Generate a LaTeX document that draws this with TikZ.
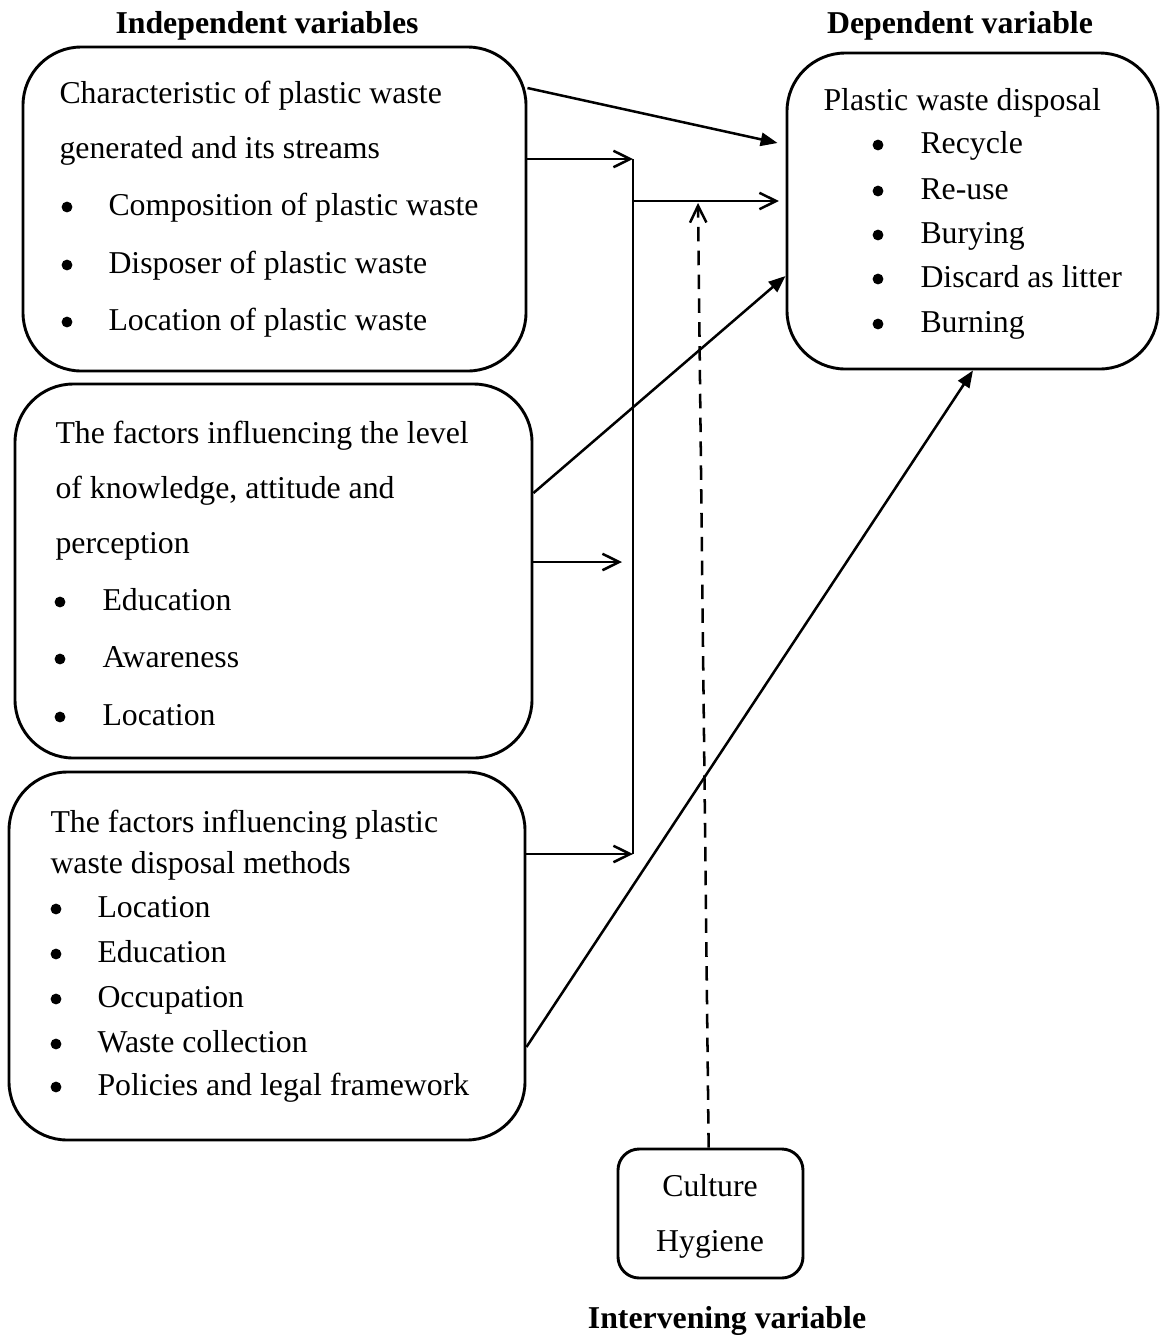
\documentclass[tikz,border=0pt]{standalone}
\usepackage{fontspec}
\setmainfont{Liberation Serif}
\usetikzlibrary{arrows.meta,fit}
\begin{document}
\begin{tikzpicture}[x=0.3774pt,y=-0.3774pt,
 every node/.style={font=\fontsize{12}{14}\selectfont},
 box/.style={draw,line width=1.1pt,rounded corners=22pt,inner sep=0pt},
 smallbox/.style={draw,line width=1.1pt,rounded corners=8pt,inner sep=0pt},
 txt/.style={anchor=base west,inner sep=0pt},
 bul/.style={circle,fill,inner sep=0pt,minimum size=4.1pt},
 ctr/.style={anchor=base,inner sep=0pt},
 head/.style={anchor=base,inner sep=0pt,font=\fontsize{12}{14}\selectfont\bfseries},
 fa/.style={line width=0.95pt,-{Triangle[length=6.4pt,width=5pt]}},
 oa/.style={line width=0.95pt,-{Straight Barb[length=6.3pt,width=6.2pt]}},
 thinline/.style={line width=0.45pt},
 dashline/.style={line width=0.95pt,dash pattern=on 5.5pt off 3.5pt,-{Straight Barb[length=6.3pt,width=6.2pt]}}
]
\useasboundingbox (0,0) rectangle (1160,1336);

% headings
\node[head] (hind) at (267,33) {Independent variables};
\node[head] (hdep) at (960,33) {Dependent variable};
\node[head] (hint) at (727,1328) {Intervening variable};

% boxes
\node[box,fit={(23,47) (526,371)}] (b1) {};
\node[box,fit={(15,384) (532,758)}] (b2) {};
\node[box,fit={(9,772) (525,1140)}] (b3) {};
\node[box,fit={(787,53) (1158,369)}] (dv) {};
\node[smallbox,fit={(618,1149) (803,1278)}] (cv) {};

% box 1 text
\node[txt] (t1a) at (59,103) {Characteristic of plastic waste};
\node[txt] (t1b) at (59,158) {generated and its streams};
\node[bul] (u1c) at (67,207) {};
\node[txt] (t1c) at (108,215) {Composition of plastic waste};
\node[bul] (u1d) at (67,265) {};
\node[txt] (t1d) at (108,273) {Disposer of plastic waste};
\node[bul] (u1e) at (67,322) {};
\node[txt] (t1e) at (108,330) {Location of plastic waste};

% box 2 text
\node[txt] (t2a) at (55,443) {The factors influencing the level};
\node[txt] (t2b) at (55,498) {of knowledge, attitude and};
\node[txt] (t2c) at (55,553) {perception};
\node[bul] (u2d) at (60,602) {};
\node[txt] (t2d) at (102,610) {Education};
\node[bul] (u2e) at (60,659) {};
\node[txt] (t2e) at (102,667) {Awareness};
\node[bul] (u2f) at (60,717) {};
\node[txt] (t2f) at (102,725) {Location};

% box 3 text
\node[txt] (t3a) at (50,832) {The factors influencing plastic};
\node[txt] (t3b) at (50,873) {waste disposal methods};
\node[bul] (u3c) at (56,909) {};
\node[txt] (t3c) at (97,917) {Location};
\node[bul] (u3d) at (56,954) {};
\node[txt] (t3d) at (97,962) {Education};
\node[bul] (u3e) at (56,999) {};
\node[txt] (t3e) at (97,1007) {Occupation};
\node[bul] (u3f) at (56,1044) {};
\node[txt] (t3f) at (97,1052) {Waste collection};
\node[bul] (u3g) at (56,1087) {};
\node[txt] (t3g) at (97,1095) {Policies and legal framework};

% dependent box text
\node[txt] (tda) at (823,110) {Plastic waste disposal};
\node[bul] (udb) at (878,145) {};
\node[txt] (tdb) at (920,153) {Recycle};
\node[bul] (udc) at (878,191) {};
\node[txt] (tdc) at (920,199) {Re-use};
\node[bul] (udd) at (878,235) {};
\node[txt] (tdd) at (920,243) {Burying};
\node[bul] (ude) at (878,279) {};
\node[txt] (tde) at (920,287) {Discard as litter};
\node[bul] (udf) at (878,324) {};
\node[txt] (tdf) at (920,332) {Burning};

% intervening box text
\node[ctr] (tca) at (710,1196) {Culture};
\node[ctr] (tcb) at (710,1251) {Hygiene};

% junction coordinates
\coordinate (bartop) at (633,159);
\coordinate (barbot) at (633,854);
\coordinate (barj) at (633,201);
\coordinate (bar6) at (622,562);
\coordinate (dtop) at (698,203);

% connectors
\draw[thinline] (bartop) -- (barbot);
\draw[fa] (b1.east |- 0,88) -- ([xshift=-3pt]dv.west |- 0,143);
\draw[oa] (b1.east |- bartop) -- (bartop);
\draw[oa] (barj) -- ([xshift=-2.5pt]dv.west |- barj);
\draw[fa] (b2.east |- 0,493) -- (dv.west |- 0,276);
\draw[oa] (b2.east |- bar6) -- (bar6);
\draw[oa] (b3.east |- barbot) -- (barbot);
\draw[fa] (b3.east |- 0,1047) -- (973,0 |- dv.south);
\draw[dashline] ([xshift=-0.7pt]cv.north) -- (dtop);
\end{tikzpicture}
\end{document}
